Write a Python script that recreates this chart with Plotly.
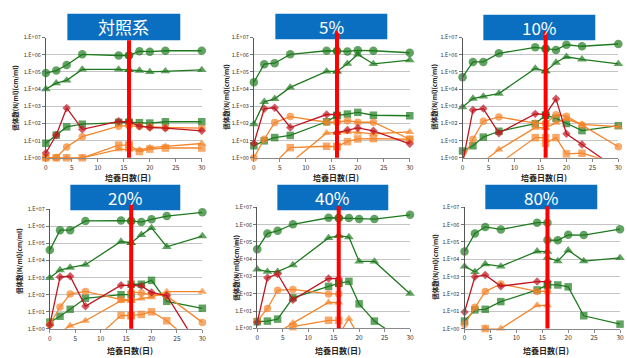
import plotly.graph_objects as go

# ---------------- data ----------------
# sampling days; day 16 appears twice (before / after the day-16 event)
DAYS = [0, 2, 4, 7, 14, 16, 16, 18, 20, 23, 30]
PANEL_TITLES = ["対照系", "5%", "10%", "20%", "40%", "80%"]
Y_TICK_VALS = [1, 10, 100, 1e3, 1e4, 1e5, 1e6, 1e7]
Y_TICK_TEXT = ["1.E+00", "1.E+01", "1.E+02", "1.E+03", "1.E+04", "1.E+05", "1.E+06", "1.E+07"]
X_TICK_VALS = [0, 5, 10, 15, 20, 25, 30]
Y_TITLE = "個体数(N/ml)(cm/ml)"
X_TITLE = "培養日数(日)"

# one list per panel (対照系, 5%, 10%, 20%, 40%, 80%)
GREEN_CIRCLE = [
    [8.5e4, 1.2e5, 2.5e5, 1.05e6, 9e5, 9e5, 9e5, 1.6e6, 1.5e6, 1.7e6, 1.7e6],
    [2.5e4, 2.8e5, 3.2e5, 1.05e6, 1.7e6, 1.65e6, 1.65e6, 1.55e6, 1.8e6, 1.7e6, 1.3e6],
    [4.9e4, 3.8e5, 3.8e5, 1.2e6, 2.7e6, 2.2e6, 2.2e6, 1.9e6, 3.8e6, 3.1e6, 4.2e6],
    [4.1e4, 6e5, 6e5, 2.1e6, 2.2e6, 2.1e6, 2.1e6, 1.8e6, 2.6e6, 4e6, 6.7e6],
    [3.8e4, 3.1e5, 4.4e5, 1.05e6, 2.5e6, 2.4e6, 2.4e6, 2.4e6, 2.1e6, 2.1e6, 3.7e6],
    [2.8e4, 3.1e5, 7.4e5, 5.3e5, 1.3e6, 1.3e6, 1.3e5, 1.26e5, 2.6e5, 2.5e5, 5.5e5],
]
GREEN_TRIANGLE = [
    [1e4, 2.2e4, 3.2e4, 1.4e5, 1.4e5, 1.3e5, 1.3e5, 1.2e5, 1.0e5, 1.1e5, 1.3e5],
    [92, 1.8e3, 2.7e3, 1.25e4, 1.07e5, 1.07e5, 1.07e5, 3e5, 1.05e6, 2.9e5, 4.9e5],
    [900, 2.8e3, 3.7e3, 5.5e3, 1.6e5, 1.1e5, 1.1e5, 3.5e5, 7.6e5, 5.4e5, 2.9e5],
    [980, 2.8e3, 3.9e3, 5.7e3, 1.3e5, 1.1e5, 1.1e5, 3.2e5, 8.1e5, 6.4e4, 2.7e5],
    [2.6e3, 1.9e3, 1.9e3, 4.6e3, 1.7e5, 2.3e5, 2.3e5, 1.9e5, 7.4e3, 7.4e3, 100],
    [3.9e3, 1.9e3, 5.3e3, 3.9e3, 2.9e4, 2.8e4, 1.26e4, 7.9e3, 3.3e4, 7.9e3, 1.2e4],
]
GREEN_SQUARE = [
    [7, 21, 63, 90, 117, 115, 115, 110, 105, 125, 125],
    [5, 9.7, 15, 20, 125, 290, 290, 350, 440, 300, 280],
    [2.5, 5, 16, 35, 96, 300, 300, 200, 99, 38, 74],
    [2.5, 5.5, 14, 62, 100, 100, 410, 410, 690, 41, 16],
    [2.4, 2.6, 3.4, 58, 265, 400, 400, 520, 26, 2.6, 0.1],
    [2.7, 12, 13, 36, 170, 330, 330, 330, 257, 5.5, 1.8],
]
RED_DIAMOND = [
    [1.9, 21, 800, 45, 133, 122, 122, 69, 58, 53, 37],
    [6.8, 720, 820, 58, 330, 330, 29, 41, 55, 37, 6.5],
    [0.5, 600, 730, 27, 360, 330, 330, 2700, 25, 6, 0.2],
    [1.7, 1100, 1200, 21, 360, 350, 350, 330, 137, 89, 0.04],
    [2.2, 840, 1400, 44, 770, 740, None, None, None, None, None],
    [9, 980, 1250, 280, 520, 520, None, None, None, None, None],
]
ORANGE_CIRCLE = [
    [1, 1.05, 4.2, 17, 69, 75, 75, 68, 62, 58, 53],
    [1, 12, 112, 250, 117, 117, 117, 145, 117, 117, 12],
    [0.8, 12, 134, 240, 103, 100, 100, 320, 265, 80, 4.4],
    [1.8, 19, 110, 155, 52, 52, 140, 128, 100, 85, 2.4],
    [2.6, 14, 158, 178, 98, 98, None, None, None, None, None],
    [1.8, 17, 140, 380, 140, 140, None, None, None, None, None],
]
ORANGE_SQUARE = [
    [1, 1, 1, 1, 5.5, 5.5, 5.5, 2.3, 3.2, 3.7, 3.7],
    [None, None, 0.5, 3.9, 4.7, 4.5, 4.5, 8.7, 12.5, 13, 12],
    [None, None, None, 0.45, 15, 15, 7, 15, 1.7, 1.85, 0.45],
    [None, None, None, 0.08, 6.2, 6, 6, 7, 10, 3, 0.05],
    [None, None, 0.5, 1.25, 2.9, 2.9, None, None, None, None, None],
    [None, None, 1, None, None, None, None, None, None, None, None],
]
ORANGE_TRIANGLE = [
    [1, 1, 1, 1, 3.1, 3.1, 3.1, 2.8, 3.9, 4.6, 6.8],
    [None, None, None, 0.5, 28, 28, 28, 32, 30, 25, 32],
    [None, None, 0.6, 3.0, 56, 56, 56, 110, 180, 87, 65],
    [None, 0.65, 1.5, 3.0, 45, 45, 45, 60, 72, 150, 150],
    [None, None, 0.54, 2.0, 31, 31, 0.43, 3.6, 0.3, None, None],
    [None, None, 1, 1, 22, 22, None, None, None, None, None],
]

# ---------------- styling ----------------
GREEN = "#1f7a1f"
RED = "#bf1520"
ORANGE = "#f5852b"
BLUE = "#0b6fc1"
FONT = "Noto Sans CJK JP, Noto Sans, sans-serif"

SERIES = [  # (data, color, symbol, marker size) in drawing order
    (GREEN_CIRCLE, GREEN, "circle", 8.5),
    (GREEN_TRIANGLE, GREEN, "triangle-up", 8.5),
    (GREEN_SQUARE, GREEN, "square", 7.5),
    (ORANGE_TRIANGLE, ORANGE, "triangle-up", 8),
    (ORANGE_SQUARE, ORANGE, "square", 7.5),
    (ORANGE_CIRCLE, ORANGE, "circle", 7.5),
    (RED_DIAMOND, RED, "diamond", 6.5),
]

W, H = 627, 358
# plot areas in px: (left, right, top, bottom)
PLOTS = [
    (44.3, 201.7, 34.3, 157.3),
    (254.3, 411.7, 34.3, 157.3),
    (465.0, 622.3, 34.3, 157.3),
    (48.3, 202.3, 210.0, 332.3),
    (257.7, 412.0, 208.0, 331.7),
    (467.0, 624.0, 208.0, 332.0),
]
BOXES = [(66, 180, 10, 37), (276, 389, 10, 36), (486, 599, 11, 37),
         (69, 180, 185, 211), (278, 390, 185, 211), (488, 601, 185, 210)]
RED_TOP = [37, 27, 28, 205, 207, 207]
YTITLE_POS = [(13, 96), (226, 95), (436, 95), (17, 263), (236, 270), (437, 269)]
XTITLE_Y = [177, 177, 177, 354, 354, 354]


def px(x):
    return x / W


def py(y):
    return 1 - y / H


fig = go.Figure()
layout = dict(
    width=W, height=H, margin=dict(l=0, r=0, t=0, b=0),
    paper_bgcolor="white", plot_bgcolor="white", showlegend=False,
    font=dict(family=FONT, size=6, color="#404040"),
)
shapes, annotations = [], []

for i, (l, r, t, b) in enumerate(PLOTS):
    k = i + 1
    sx = "" if k == 1 else str(k)
    layout["xaxis" + sx] = dict(
        domain=[px(l), px(r)], anchor="y" + sx, range=[0, 30],
        tickvals=X_TICK_VALS, ticks="outside", ticklen=3, tickcolor="#888",
        showline=True, linecolor="#8a8a8a", linewidth=1, showgrid=False,
        zeroline=False, tickfont=dict(size=6.5, color="#333"),
    )
    layout["yaxis" + sx] = dict(
        domain=[py(b), py(t)], anchor="x" + sx, type="log", range=[0, 7],
        tickvals=Y_TICK_VALS, ticktext=Y_TICK_TEXT, ticks="outside", ticklen=3,
        tickcolor="#777", showline=True, linecolor="#555", linewidth=1,
        showgrid=True, gridcolor="#c4c4c4", gridwidth=1, zeroline=False,
        tickfont=dict(size=5.5, color="#333"),
    )
    for data, color, symbol, size in SERIES:
        vals = data[i]
        sizes = [size if (v is not None and v >= 0.97) else 0 for v in vals]
        fig.add_trace(go.Scatter(
            x=DAYS, y=vals, mode="lines+markers", xaxis="x" + sx, yaxis="y" + sx,
            line=dict(color=color, width=1.3),
            marker=dict(symbol=symbol, size=sizes, color=color, line=dict(width=0)),
            cliponaxis=False, connectgaps=False, hoverinfo="skip",
        ))
    # title box
    bx0, bx1, by0, by1 = BOXES[i]
    shapes.append(dict(type="rect", xref="paper", yref="paper",
                       x0=px(bx0), x1=px(bx1), y0=py(by1), y1=py(by0),
                       fillcolor=BLUE, line=dict(width=0), layer="above"))
    # day-16 red marker line
    shapes.append(dict(type="line", xref="x" + sx, yref="paper",
                       x0=16, x1=16, y0=py(b), y1=py(RED_TOP[i]),
                       line=dict(color="#ff0000", width=4), layer="above"))
    annotations.append(dict(text=PANEL_TITLES[i], xref="paper", yref="paper",
                            x=px((bx0 + bx1) / 2), y=py((by0 + by1) / 2),
                            showarrow=False, xanchor="center", yanchor="middle",
                            font=dict(family=FONT, size=17, color="white")))
    yx, yy = YTITLE_POS[i]
    annotations.append(dict(text="<b>" + Y_TITLE + "</b>", xref="paper", yref="paper",
                            x=px(yx), y=py(yy), textangle=-90, showarrow=False,
                            xanchor="center", yanchor="middle",
                            font=dict(family=FONT, size=6.5, color="#222")))
    annotations.append(dict(text="<b>" + X_TITLE + "</b>", xref="paper", yref="paper",
                            x=px((l + r) / 2 + 4), y=py(XTITLE_Y[i]), showarrow=False,
                            xanchor="center", yanchor="middle",
                            font=dict(family=FONT, size=8, color="#222")))

layout["shapes"] = shapes
layout["annotations"] = annotations
fig.update_layout(**layout)
fig.write_html("out.html", config={"displayModeBar": False},
               post_script="document.body.style.margin='0';")
